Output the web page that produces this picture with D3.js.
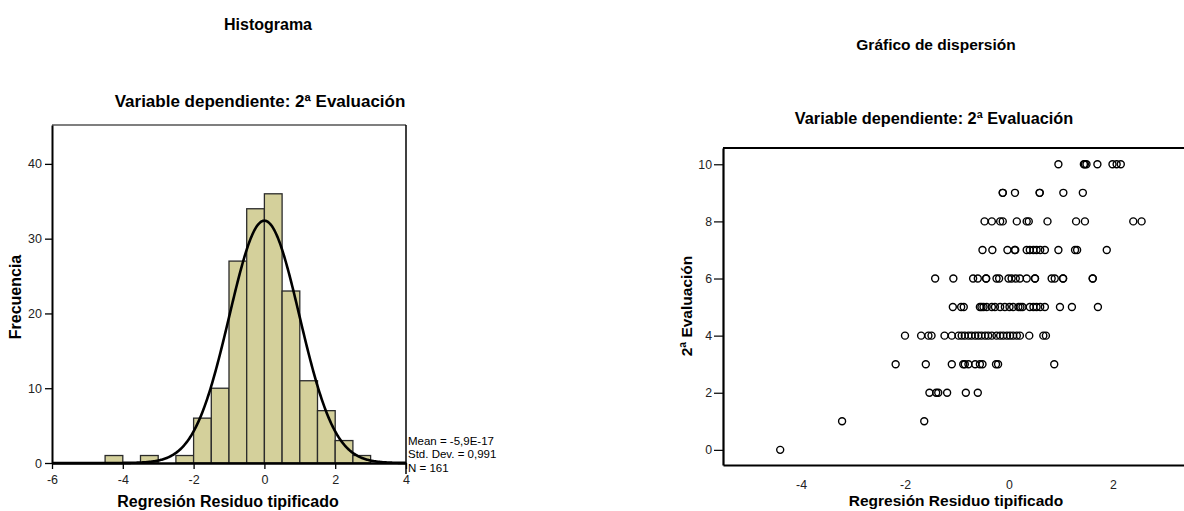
<!DOCTYPE html>
<html>
<head>
<meta charset="utf-8">
<script src="https://cdn.jsdelivr.net/npm/d3@7"></script>
<style>
  html, body { margin: 0; padding: 0; background: #fff; }
  svg { display: block; font-family: "Liberation Sans", Arial, Helvetica, sans-serif; }
  .tick text { fill: #222; }
</style>
</head>
<body>
<svg id="chart" width="1184" height="511"></svg>
<script>
// ---- Histogram of standardized residuals ----
const binStarts = [-4.5, -4.0, -3.5, -3.0, -2.5, -2.0, -1.5, -1.0, -0.5, 0.0, 0.5, 1.0, 1.5, 2.0, 2.5];
const binCounts = [1, 0, 1, 0, 1, 6, 10, 27, 34, 36, 23, 11, 7, 3, 1];
const binWidth = 0.5;
const histXTicks = [-6, -4, -2, 0, 2, 4];
const histYTicks = [0, 10, 20, 30, 40];
const residMean = -5.9e-17;
const residSD = 0.991;
const residN = 161;
const statLines = ["Mean = -5,9E-17", "Std. Dev. = 0,991", "N = 161"];

// ---- Scatter: standardized residual vs. 2ª Evaluación, one array per grade ----
const grade10 = [0.95, 1.44, 1.46, 1.49, 1.70, 1.99, 2.07, 2.15];
const grade9  = [-0.12, -0.12, 0.115, 0.59, 0.59, 1.045, 1.42];
const grade8  = [-0.47, -0.33, -0.17, -0.12, 0.15, 0.34, 0.38, 0.74, 1.29, 1.46, 2.39, 2.55];
const grade7  = [-0.51, -0.32, -0.03, 0.11, 0.12, 0.34, 0.40, 0.47, 0.53, 0.60, 0.69, 0.95, 1.27, 1.31, 1.88];
const grade6  = [-1.42, -1.07, -0.69, -0.60, -0.44, -0.44, -0.24, -0.19, -0.01, 0.05, 0.13, 0.21, 0.34, 0.50, 0.50, 0.82, 0.88, 1.04, 1.04, 1.61, 1.61];
const grade5  = [-1.08, -0.92, -0.87, -0.56, -0.53, -0.49, -0.43, -0.33, -0.27, -0.17, -0.08, 0.01, 0.08, 0.18, 0.22, 0.26, 0.40, 0.47, 0.53, 0.60, 0.69, 0.98, 1.21, 1.71];
const grade4  = [-2.0, -1.69, -1.55, -1.49, -1.24, -1.10, -0.97, -0.91, -0.85, -0.78, -0.72, -0.65, -0.59, -0.53, -0.46, -0.40, -0.33, -0.24, -0.17, -0.11, -0.04, 0.02, 0.08, 0.15, 0.21, 0.39, 0.66, 0.71];
const grade3  = [-2.18, -1.60, -1.10, -0.88, -0.85, -0.78, -0.65, -0.56, -0.51, -0.25, -0.21, 0.87];
const grade2  = [-1.53, -1.40, -1.36, -1.19, -0.83, -0.60];
const grade1  = [-3.21, -1.63];
const grade0  = [-4.40];
const gradeLevels = [10, 9, 8, 7, 6, 5, 4, 3, 2, 1, 0];
const gradeResiduals = [grade10, grade9, grade8, grade7, grade6, grade5, grade4, grade3, grade2, grade1, grade0];
const scatterXTicks = [-4, -2, 0, 2];
const scatterYTicks = [0, 2, 4, 6, 8, 10];

const svg = d3.select("#chart");
const FONT = "Liberation Sans, Arial, sans-serif";
const plainNum = d => String(d);   // plain hyphen for negatives

// ================= Histogram =================
const hx = d3.scaleLinear().domain([-6, 4]).range([52, 406]);
const hy = d3.scaleLinear().domain([0, 45.2]).range([463, 125]);

svg.append("text").attr("x", 268).attr("y", 30).attr("text-anchor", "middle")
  .attr("font-size", 16).attr("font-weight", "bold").text("Histograma");
svg.append("text").attr("x", 260).attr("y", 107).attr("text-anchor", "middle")
  .attr("font-size", 17).attr("font-weight", "bold").text("Variable dependiente: 2ª Evaluación");

const hist = svg.append("g");

// bars
hist.selectAll("rect.bar")
  .data(binStarts.map((s, i) => ({ s, c: binCounts[i] })).filter(d => d.c > 0))
  .join("rect")
  .attr("class", "bar")
  .attr("x", d => hx(d.s))
  .attr("width", d => hx(d.s + binWidth) - hx(d.s))
  .attr("y", d => hy(d.c))
  .attr("height", d => hy(0) - hy(d.c))
  .attr("fill", "#d4d09b")
  .attr("stroke", "#2b2b2b")
  .attr("stroke-width", 1.3);

// fitted normal curve scaled to counts
const pdf = v => Math.exp(-0.5 * ((v - residMean) / residSD) ** 2) / (residSD * Math.sqrt(2 * Math.PI));
const curvePts = d3.range(-6, 4.0001, 0.02).map(v => [v, residN * binWidth * pdf(v)]);
hist.append("path")
  .datum(curvePts)
  .attr("fill", "none")
  .attr("stroke", "#000")
  .attr("stroke-width", 2.6)
  .attr("d", d3.line().x(d => hx(d[0])).y(d => hy(d[1])));

// frame
hist.append("line").attr("x1", hx(-6)).attr("x2", hx(4)).attr("y1", hy.range()[1]).attr("y2", hy.range()[1])
  .attr("stroke", "#000").attr("stroke-width", 1.2);
hist.append("line").attr("x1", hx(4)).attr("x2", hx(4)).attr("y1", hy.range()[1]).attr("y2", 474)
  .attr("stroke", "#000").attr("stroke-width", 1.5);

// axes
const hxAxis = hist.append("g").attr("transform", `translate(0,${hy(0)})`)
  .call(d3.axisBottom(hx).tickValues(histXTicks).tickFormat(plainNum).tickSize(6).tickSizeOuter(0).tickPadding(6));
hxAxis.select(".domain").attr("stroke-width", 2.6);
hxAxis.selectAll(".tick line").attr("stroke-width", 1.3);
hxAxis.selectAll(".tick text").attr("font-size", 12.5).attr("font-family", FONT);

const hyAxis = hist.append("g").attr("transform", `translate(${hx(-6)},0)`)
  .call(d3.axisLeft(hy).tickValues(histYTicks).tickFormat(plainNum).tickSize(7).tickSizeOuter(0).tickPadding(3));
hyAxis.select(".domain").attr("stroke-width", 2);
hyAxis.selectAll(".tick line").attr("stroke-width", 1.3);
hyAxis.selectAll(".tick text").attr("font-size", 12.5).attr("font-family", FONT);

hist.append("text").attr("x", 228).attr("y", 507).attr("text-anchor", "middle")
  .attr("font-size", 16).attr("font-weight", "bold").text("Regresión Residuo tipificado");
hist.append("text").attr("transform", "translate(21,297) rotate(-90)").attr("text-anchor", "middle")
  .attr("font-size", 16).attr("font-weight", "bold").text("Frecuencia");

// statistics box
hist.selectAll("text.stat").data(statLines).join("text")
  .attr("class", "stat")
  .attr("x", hx(4) + 2)
  .attr("y", (d, i) => 445 + i * 13.3)
  .attr("font-size", 11.5)
  .text(d => d);

// ================= Scatter =================
const sx = d3.scaleLinear().domain([-5.5, 3.5]).range([723, 1191]);
const sy = d3.scaleLinear().domain([-0.53, 10.57]).range([465, 148]);

svg.append("text").attr("x", 936).attr("y", 50).attr("text-anchor", "middle")
  .attr("font-size", 15.5).attr("font-weight", "bold").text("Gráfico de dispersión");
svg.append("text").attr("x", 934).attr("y", 124).attr("text-anchor", "middle")
  .attr("font-size", 16.3).attr("font-weight", "bold").text("Variable dependiente: 2ª Evaluación");

const sc = svg.append("g");

sc.append("line").attr("x1", sx(-5.5)).attr("x2", sx(3.5)).attr("y1", sy.range()[1]).attr("y2", sy.range()[1])
  .attr("stroke", "#000").attr("stroke-width", 1.8);

const sxAxis = sc.append("g").attr("transform", `translate(0,${sy.range()[0]})`)
  .call(d3.axisBottom(sx).tickValues(scatterXTicks).tickFormat(plainNum).tickSize(0).tickSizeOuter(0).tickPadding(15));
sxAxis.select(".domain").attr("stroke-width", 2.2);
sxAxis.selectAll(".tick text").attr("font-size", 12.3).attr("font-family", FONT);

const syAxis = sc.append("g").attr("transform", `translate(${sx.range()[0]},0)`)
  .call(d3.axisLeft(sy).tickValues(scatterYTicks).tickFormat(plainNum).tickSize(9).tickSizeOuter(0).tickPadding(2));
syAxis.select(".domain").attr("stroke-width", 2.2);
syAxis.selectAll(".tick line").attr("stroke-width", 1.2);
syAxis.selectAll(".tick text").attr("font-size", 12.3).attr("font-family", FONT);

const pts = [];
gradeLevels.forEach((g, i) => gradeResiduals[i].forEach(r => pts.push({ r, g })));
sc.selectAll("circle").data(pts).join("circle")
  .attr("cx", d => sx(d.r))
  .attr("cy", d => sy(d.g))
  .attr("r", 3.5)
  .attr("fill", "none")
  .attr("stroke", "#000")
  .attr("stroke-width", 1.4);

sc.append("text").attr("x", 956).attr("y", 506).attr("text-anchor", "middle")
  .attr("font-size", 15.5).attr("font-weight", "bold").text("Regresión Residuo tipificado");
sc.append("text").attr("transform", "translate(692,306) rotate(-90)").attr("text-anchor", "middle")
  .attr("font-size", 15.5).attr("font-weight", "bold").text("2ª Evaluación");
</script>
</body>
</html>
